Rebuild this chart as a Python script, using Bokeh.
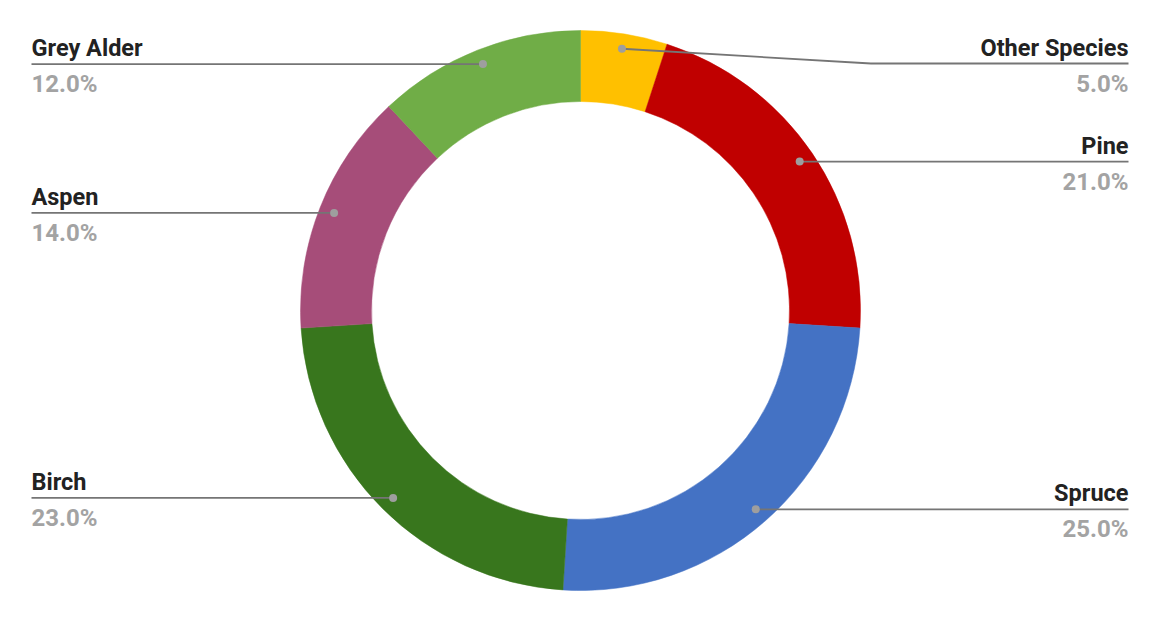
import numpy as np
from bokeh.plotting import figure
from bokeh.models import Range1d, ColumnDataSource
from bokeh.core.properties import value
from bokeh.embed import file_html
from bokeh.resources import INLINE

# ---- data ----
species = ["Other Species", "Pine", "Spruce", "Birch", "Aspen", "Grey Alder"]
shares = [5.0, 21.0, 25.0, 23.0, 14.0, 12.0]
colors = ["#ffc000", "#c00000", "#4472c4", "#38761d", "#a64d79", "#70ad47"]

# ---- layout ----
W, H = 1144, 604
CX, CY = 580, 310          # centre (page pixel coords)
R_OUT, R_IN, R_DOT = 280, 209, 265
LEFT_X, RIGHT_X = 31, 1128
MIN_LABEL_Y = 63           # top-most label line position (page Y)
ELBOW_DX = 249
NAME_DY, PCT_DY = 16, -20

p = figure(width=W, height=H, output_backend="svg", toolbar_location=None,
           x_range=Range1d(0, W), y_range=Range1d(620 - H, 620),
           min_border=0)
p.axis.visible = False
p.grid.visible = False
p.outline_line_color = None
p.background_fill_color = "white"
p.border_fill_color = "white"

vals = np.array(shares, dtype=float)
frac = vals / vals.sum()
cum_end = np.cumsum(frac)
cum_start = cum_end - frac
start = np.pi / 2 - 2 * np.pi * cum_start
end = np.pi / 2 - 2 * np.pi * cum_end

src = ColumnDataSource(dict(x=[CX] * len(species), y=[620 - CY] * len(species),
                            start=start, end=end, color=colors))
p.annular_wedge(x="x", y="y", inner_radius=R_IN, outer_radius=R_OUT,
                start_angle="start", end_angle="end", direction="clock",
                color="color", line_color="color", line_width=0.5, source=src)

mid = np.pi / 2 - 2 * np.pi * (cum_start + frac / 2)
dot_x = CX + R_DOT * np.cos(mid)
dot_Y = CY - R_DOT * np.sin(mid)   # page Y

font = value("Roboto")
for i, name in enumerate(species):
    dx, dY = dot_x[i], dot_Y[i]
    right = dx >= CX
    lineY = max(dY, MIN_LABEL_Y)
    if right:
        if abs(lineY - dY) > 1:
            xs = [dx, dx + ELBOW_DX, RIGHT_X]
            ys = [620 - dY, 620 - lineY, 620 - lineY]
        else:
            xs = [dx, RIGHT_X]
            ys = [620 - dY, 620 - dY]
        tx, align = RIGHT_X, "right"
    else:
        xs = [LEFT_X, dx]
        ys = [620 - lineY, 620 - dY]
        tx, align = LEFT_X, "left"
    p.line(xs, ys, line_color="#757575", line_width=1.8)
    p.scatter([dx], [620 - dY], size=8, fill_color="#9e9e9e", line_color=None)
    p.text([tx], [620 - lineY + NAME_DY], text=[name], text_font=font,
           text_font_size="23.5px", text_font_style="bold", text_color="#222222",
           text_align=align, text_baseline="alphabetic")
    p.text([tx], [620 - lineY + PCT_DY], text=[f"{shares[i]:.1f}%"], text_font=font,
           text_font_size="24px", text_font_style="bold", text_color="#a3a3a3",
           text_align=align, text_baseline="alphabetic")

open("out.html", "w").write(file_html(p, INLINE))
